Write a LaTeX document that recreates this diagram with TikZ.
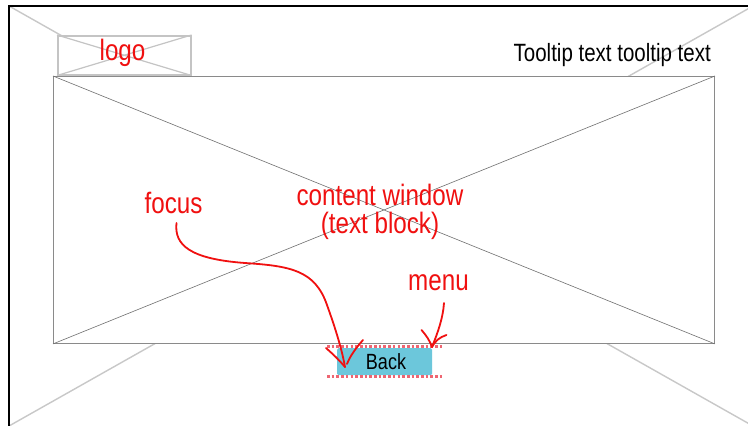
\documentclass[tikz,border=0pt]{standalone}
\usepackage{fontspec}
\setmainfont[FakeStretch=0.82]{Liberation Sans}
\definecolor{markred}{HTML}{F01010}
\definecolor{btnfill}{HTML}{6CC7DB}
\definecolor{dotred}{HTML}{EE6672}
\definecolor{guidegray}{HTML}{C8C8C8}
\definecolor{logogray}{HTML}{C4C4C4}
\definecolor{wingray}{HTML}{8A8A8A}
\definecolor{crossgray}{HTML}{707070}
\tikzset{
  frameline/.style={line width=2pt, black},
  guide/.style={line width=1.4pt, guidegray},
  logobox/.style={draw=logogray, fill=white, line width=1.5pt},
  logocross/.style={logogray, line width=1.2pt},
  winbox/.style={draw=wingray, fill=white, line width=0.9pt},
  wincross/.style={crossgray, line width=0.6pt},
  redlabel/.style={text=markred, font=\fontsize{29.5}{28}\selectfont, inner sep=0pt},
  blacklabel/.style={text=black, font=\fontsize{25}{28}\selectfont, inner sep=0pt},
  btn/.style={fill=btnfill, rounded corners=1.5pt, draw=none},
  dotline/.style={dotred, line width=3pt, dash pattern=on 2.6pt off 2.1pt},
  pen/.style={markred, line width=1.8pt, line cap=round, line join=round},
}
\begin{document}
\begin{tikzpicture}[x=1pt, y=-1pt]
\useasboundingbox (0,0) rectangle (748,426);
\fill[white] (0,0) rectangle (748,426);
\begin{scope}
  \clip (0,0) rectangle (748,426);
  % page diagonals
  \draw[guide] (9,6) -- (753,426);
  \draw[guide] (9,426) -- (753,6);
  % page frame (left and top edges in view)
  \draw[frameline] (9,430) -- (9,6) -- (760,6);
\end{scope}

% logo placeholder
\node[logobox, minimum width=133pt, minimum height=39pt, anchor=north west, inner sep=0pt] (logobox) at (57,35) {};
\draw[logocross] (logobox.north west) -- (logobox.south east);
\draw[logocross] (logobox.south west) -- (logobox.north east);
\node[redlabel, anchor=base] (logo) at (122.5,60.5) {logo};

% tooltip
\node[blacklabel, anchor=base east] (tooltip) at (711,61) {Tooltip text tooltip text};

% content window
\node[winbox, minimum width=661pt, minimum height=267pt, anchor=north west, inner sep=0pt] (win) at (53,76) {};
\draw[wincross] (win.north west) -- (win.south east);
\draw[wincross] (win.south west) -- (win.north east);
\node[redlabel, align=center] (content) at (380,212) {content window\\(text block)};

% back button
\node[btn, minimum width=95pt, minimum height=27pt, anchor=north west, inner sep=0pt] (back) at (337,348) {};
\node[blacklabel, font=\fontsize{22}{24}\selectfont, anchor=base] (backlabel) at (386,369) {Back};
\coordinate (dotTL) at (327,346);
\coordinate (dotTR) at (443,346);
\coordinate (dotBL) at (327,376.5);
\coordinate (dotBR) at (443,376.5);
\draw[dotline] (dotTL) -- (dotTR);
\draw[dotline] (dotBL) -- (dotBR);

% labels
\node[redlabel, anchor=base] (focus) at (173.5,213) {focus};
\node[redlabel, anchor=base] (menu) at (438.5,290) {menu};

% hand-drawn pointers
\coordinate (focusstart) at (176.5,223);
\coordinate (focustip) at (345,367);
\draw[pen] (focusstart) .. controls (174,245) and (190,259) .. (245,263)
  .. controls (290,266) and (315,270) .. (327,305)
  .. controls (336,330) and (342,350) .. (focustip);
\draw[pen] (326,348) .. controls (334,355) and (340,361) .. (focustip);
\draw[pen] (363,340) .. controls (356,348) and (350,356) .. (347,364);

\coordinate (menustart) at (444,303);
\coordinate (menutip) at (432,347);
\draw[pen] (menustart) .. controls (443,318) and (438,332) .. (menutip);
\draw[pen] (421.5,330) .. controls (426,335) and (430,341) .. (menutip);
\draw[pen] (446.5,335) .. controls (440,337) and (435,341) .. (menutip);
\end{tikzpicture}
\end{document}
